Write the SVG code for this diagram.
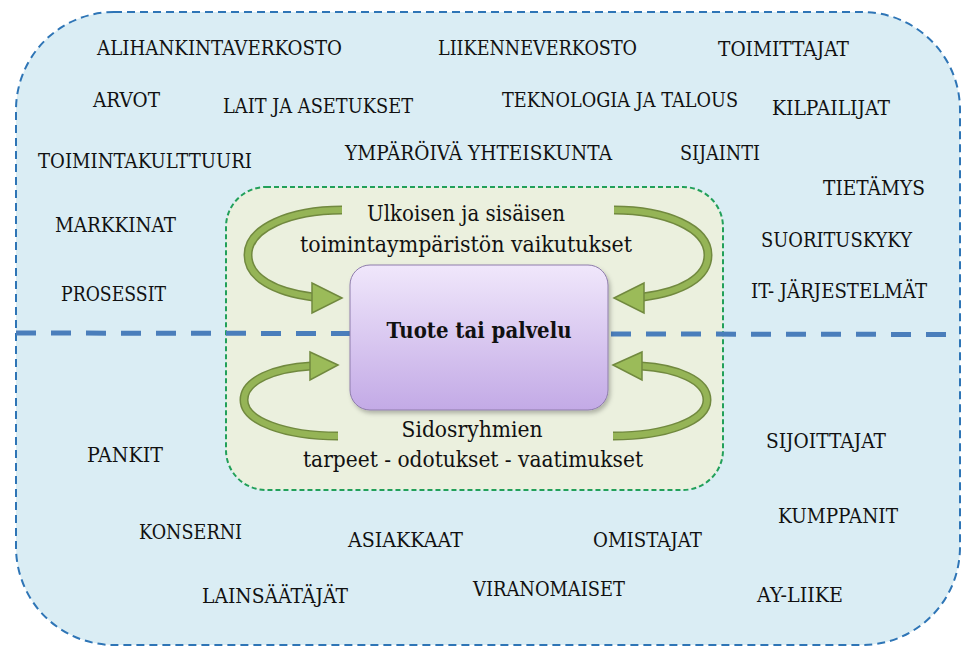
<svg xmlns="http://www.w3.org/2000/svg" width="976" height="655" viewBox="0 0 976 655">
<defs>
<linearGradient id="pg" x1="0" y1="0" x2="0" y2="1">
<stop offset="0" stop-color="#f0e7fb"/>
<stop offset="1" stop-color="#c3aae6"/>
</linearGradient>
<filter id="sh" x="-10%" y="-10%" width="130%" height="130%">
<feDropShadow dx="2" dy="3" stdDeviation="2" flood-color="#000" flood-opacity="0.25"/>
</filter>
</defs>
<style>
text{font-family:'DejaVu Serif','Liberation Serif',serif;}
.lbl{font-size:21px;fill:#111;}
.ctr{font-size:22px;fill:#111;text-anchor:middle;}
.band-o{fill:none;stroke:#71893f;stroke-width:9;}
.band-i{fill:none;stroke:#95b456;stroke-width:6;}
.head{fill:#9bbb59;stroke:#71893f;stroke-width:1.5;stroke-linejoin:miter;}
</style>
<rect width="976" height="655" fill="#ffffff"/>
<g id="outer">
<rect x="16" y="12" width="944" height="633" rx="98" ry="98" fill="#daedf4" stroke="#2e75b6" stroke-width="2" stroke-dasharray="8 5"/>
</g>
<g id="inner">
<rect x="226" y="187" width="497" height="303" rx="40" ry="40" fill="#ebf0de" stroke="#22a05a" stroke-width="2" stroke-dasharray="5 3"/>
</g>
<g id="divider">
<line x1="16" y1="333" x2="955" y2="334.5" stroke="#4a7ebb" stroke-width="5" stroke-dasharray="20 15"/>
</g>
<g id="core">
<rect x="350" y="265" width="258" height="145" rx="20" ry="20" fill="url(#pg)" stroke="#8e7cab" stroke-width="1" filter="url(#sh)"/>
<text class="ctr" x="479" y="338" font-weight="bold" textLength="185" lengthAdjust="spacingAndGlyphs">Tuote tai palvelu</text>
</g>
<g id="connectors">
<path class="band-o" d="M342,210 C290,210 248,228 248,255 C248,278 275,292 313,297"/>
<path class="band-i" d="M342,210 C290,210 248,228 248,255 C248,278 275,292 313,297"/>
<polygon class="head" points="342,298 312,283 312,313"/>
<path class="band-o" d="M614,210 C666,210 708,228 708,255 C708,278 681,292 643,297"/>
<path class="band-i" d="M614,210 C666,210 708,228 708,255 C708,278 681,292 643,297"/>
<polygon class="head" points="614,298 644,283 644,313"/>
<path class="band-o" d="M338,436 C285,436 244,421 244,400 C244,380 275,368 311,366"/>
<path class="band-i" d="M338,436 C285,436 244,421 244,400 C244,380 275,368 311,366"/>
<polygon class="head" points="338,365 310,352 310,380"/>
<path class="band-o" d="M613,436 C666,436 707,421 707,400 C707,380 676,368 641,366"/>
<path class="band-i" d="M613,436 C666,436 707,421 707,400 C707,380 676,368 641,366"/>
<polygon class="head" points="613,365 642,352 642,380"/>
</g>
<g id="center-labels">
<text class="ctr" x="466" y="221" textLength="198" lengthAdjust="spacingAndGlyphs">Ulkoisen ja sisäisen</text>
<text class="ctr" x="466" y="252" textLength="332" lengthAdjust="spacingAndGlyphs">toimintaympäristön vaikutukset</text>
<text class="ctr" x="472" y="437" textLength="141" lengthAdjust="spacingAndGlyphs">Sidosryhmien</text>
<text class="ctr" x="473" y="467" textLength="340" lengthAdjust="spacingAndGlyphs">tarpeet - odotukset - vaatimukset</text>
</g>
<g id="factors">
<text class="lbl" x="97" y="55" textLength="245" lengthAdjust="spacingAndGlyphs">ALIHANKINTAVERKOSTO</text>
<text class="lbl" x="438" y="55" textLength="199" lengthAdjust="spacingAndGlyphs">LIIKENNEVERKOSTO</text>
<text class="lbl" x="718" y="56" textLength="131" lengthAdjust="spacingAndGlyphs">TOIMITTAJAT</text>
<text class="lbl" x="93" y="107" textLength="67" lengthAdjust="spacingAndGlyphs">ARVOT</text>
<text class="lbl" x="223" y="113" textLength="190" lengthAdjust="spacingAndGlyphs">LAIT JA ASETUKSET</text>
<text class="lbl" x="502" y="107" textLength="236" lengthAdjust="spacingAndGlyphs">TEKNOLOGIA JA TALOUS</text>
<text class="lbl" x="772" y="115" textLength="118" lengthAdjust="spacingAndGlyphs">KILPAILIJAT</text>
<text class="lbl" x="38" y="168" textLength="214" lengthAdjust="spacingAndGlyphs">TOIMINTAKULTTUURI</text>
<text class="lbl" x="345" y="160" textLength="267" lengthAdjust="spacingAndGlyphs">YMPÄRÖIVÄ YHTEISKUNTA</text>
<text class="lbl" x="680" y="160" textLength="80" lengthAdjust="spacingAndGlyphs">SIJAINTI</text>
<text class="lbl" x="823" y="195" textLength="102" lengthAdjust="spacingAndGlyphs">TIETÄMYS</text>
<text class="lbl" x="55" y="232" textLength="121" lengthAdjust="spacingAndGlyphs">MARKKINAT</text>
<text class="lbl" x="761" y="247" textLength="151" lengthAdjust="spacingAndGlyphs">SUORITUSKYKY</text>
<text class="lbl" x="61" y="301" textLength="105" lengthAdjust="spacingAndGlyphs">PROSESSIT</text>
<text class="lbl" x="751" y="298" textLength="176" lengthAdjust="spacingAndGlyphs">IT- JÄRJESTELMÄT</text>
<text class="lbl" x="87" y="462" textLength="76" lengthAdjust="spacingAndGlyphs">PANKIT</text>
<text class="lbl" x="766" y="448" textLength="120" lengthAdjust="spacingAndGlyphs">SIJOITTAJAT</text>
<text class="lbl" x="778" y="523" textLength="120" lengthAdjust="spacingAndGlyphs">KUMPPANIT</text>
<text class="lbl" x="139" y="539" textLength="103" lengthAdjust="spacingAndGlyphs">KONSERNI</text>
<text class="lbl" x="348" y="547" textLength="115" lengthAdjust="spacingAndGlyphs">ASIAKKAAT</text>
<text class="lbl" x="593" y="547" textLength="109" lengthAdjust="spacingAndGlyphs">OMISTAJAT</text>
<text class="lbl" x="202" y="603" textLength="146" lengthAdjust="spacingAndGlyphs">LAINSÄÄTÄJÄT</text>
<text class="lbl" x="473" y="596" textLength="152" lengthAdjust="spacingAndGlyphs">VIRANOMAISET</text>
<text class="lbl" x="757" y="602" textLength="86" lengthAdjust="spacingAndGlyphs">AY-LIIKE</text>
</g>
</svg>
